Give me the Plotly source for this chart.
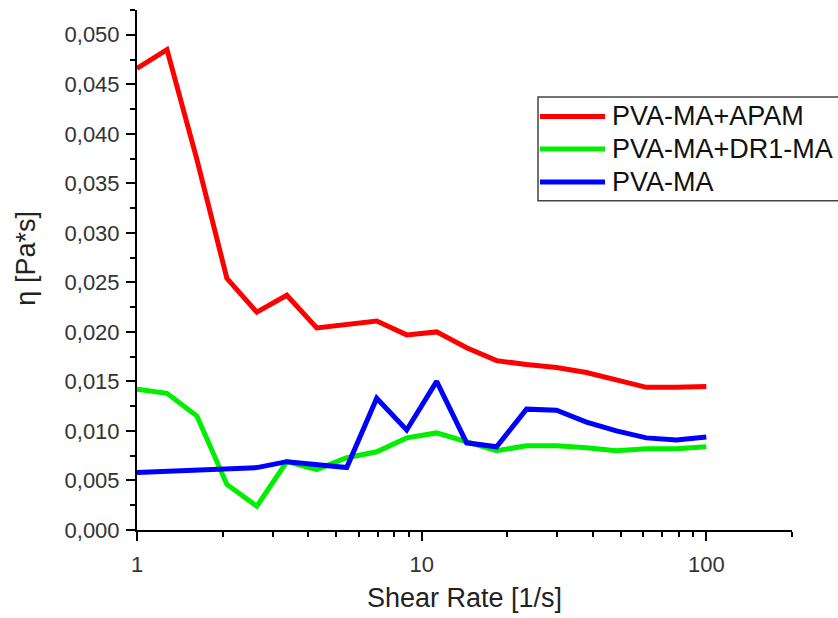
import numpy as np
import plotly.graph_objects as go

# ---- data ----
shear_rate = [10 ** (2 * i / 19) for i in range(20)]  # 1 ... 100 1/s, log-spaced (20 points)
apam = [0.0466, 0.0485, 0.0374, 0.0254, 0.0220, 0.0237, 0.0204, 0.0208, 0.0211, 0.0197,
        0.0200, 0.0184, 0.0171, 0.0167, 0.0164, 0.0159, 0.0152, 0.0144, 0.0144, 0.0145]
dr1 = [0.0142, 0.0138, 0.0115, 0.0046, 0.0024, 0.0069, 0.0061, 0.0073, 0.0079, 0.0093,
       0.0098, 0.0089, 0.0080, 0.0085, 0.0085, 0.0083, 0.0080, 0.0082, 0.0082, 0.0084]
pvama = [0.0058, 0.0059, 0.0061, 0.0062, 0.0063, 0.0069, 0.0066, 0.0063, 0.0133, 0.0101,
         0.0150, 0.0088, 0.0084, 0.0122, 0.0121, 0.0109, 0.0100, 0.0093, 0.0091, 0.0094]
series_names = ["PVA-MA+APAM", "PVA-MA+DR1-MA", "PVA-MA"]
series_colors = ["#ff0000", "#00ee00", "#0000ff"]
y_ticks = [0.000, 0.005, 0.010, 0.015, 0.020, 0.025, 0.030, 0.035, 0.040, 0.045, 0.050]
x_ticks = [1, 10, 100]
x_minor = [2, 3, 4, 5, 6, 7, 8, 9, 20, 30, 40, 50, 60, 70, 80, 90, 200]

W, H = 838, 618
L, R, T, B = 137, 46, 10, 82
PW, PH = W - L - R, H - T - B


def px(xp):
    return (xp - L) / PW


def py(yp):
    return (H - B - yp) / PH


FONT = "Liberation Sans, Arial, sans-serif"

fig = go.Figure()
for name, vals, col in zip(series_names, [apam, dr1, pvama], series_colors):
    fig.add_trace(go.Scatter(x=shear_rate, y=vals, mode="lines", name=name,
                             line=dict(color=col, width=5), showlegend=False))

fig.update_layout(
    width=W, height=H,
    margin=dict(l=L, r=R, t=T, b=B),
    paper_bgcolor="white", plot_bgcolor="white",
    separators=",.",
    font=dict(family=FONT, color="#333333"),
    xaxis=dict(
        type="log", range=[0, np.log10(200)],
        tickvals=x_ticks, ticktext=[str(v) for v in x_ticks],
        ticks="outside", ticklen=9, tickwidth=2, tickcolor="black",
        showline=True, linecolor="black", linewidth=2,
        showgrid=False, zeroline=False,
        tickfont=dict(size=22, color="#333333"),
        ticklabelstandoff=5,
        minor=dict(tickvals=x_minor, ticks="outside", ticklen=5, tickwidth=2,
                   tickcolor="black", showgrid=False),
        title=dict(text="Shear Rate [1/s]", font=dict(size=27, color="#222222"), standoff=12),
    ),
    yaxis=dict(
        range=[0, 0.0525],
        tickvals=y_ticks, tickformat=".3f",
        ticks="outside", ticklen=9, tickwidth=2, tickcolor="black",
        showline=True, linecolor="black", linewidth=2,
        showgrid=False, zeroline=False,
        tickfont=dict(size=22, color="#333333"),
        ticklabelstandoff=2,
        minor=dict(dtick=0.0025, tick0=0, ticks="outside", ticklen=5, tickwidth=2,
                   tickcolor="black", showgrid=False),
    ),
)

# y-axis title
fig.add_annotation(text="η [Pa*s]", xref="paper", yref="paper",
                   x=px(26), y=py(261.5), textangle=-90, showarrow=False,
                   font=dict(size=27, color="#222222", family=FONT),
                   xanchor="center", yanchor="middle")

# legend box (extends past the right edge like the reference)
fig.add_shape(type="rect", xref="paper", yref="paper",
              x0=px(538), x1=px(870), y0=py(203), y1=py(98),
              line=dict(color="#444444", width=1.5), fillcolor="white", layer="above")
row_y = [117.7, 150.7, 184.0]
for name, col, ry in zip(series_names, series_colors, row_y):
    fig.add_shape(type="line", xref="paper", yref="paper",
                  x0=px(540), x1=px(605), y0=py(ry), y1=py(ry),
                  line=dict(color=col, width=5), layer="above")
    fig.add_annotation(text=name, xref="paper", yref="paper",
                       x=px(610), y=py(ry), showarrow=False,
                       xanchor="left", yanchor="middle",
                       font=dict(size=27, color="#111111", family=FONT))

fig.write_html("out.html")
